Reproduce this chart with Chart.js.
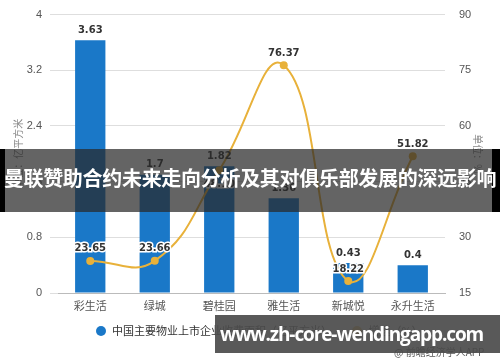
<!DOCTYPE html>
<html>
<head>
<meta charset="utf-8">
<script src="https://cdn.jsdelivr.net/npm/chart.js@4"></script>
<style>
  html, body { margin: 0; padding: 0; background: #fff; }
  body { width: 500px; height: 362px; overflow: hidden; position: relative; font-family: "Noto Sans CJK SC", "Noto Sans", sans-serif; }
  #wrap { position: absolute; left: 0; top: 0; width: 500px; height: 362px; }
  .legend { position: absolute; top: 322px; left: 96px; font-size: 11px; color: #333; white-space: nowrap; }
  .legend span.dot { display: inline-block; width: 10px; height: 10px; border-radius: 50%; vertical-align: -1px; margin-right: 6px; }
  .legend span.item { margin-right: 18px; }
  .banner { position: absolute; left: 0; top: 149px; width: 500px; height: 63px; }
  .banner .txt { position: absolute; left: -2px; top: 17px; width: 504px; text-align: center; color: #fff; font-weight: bold; font-size: 20px; line-height: 24px; white-space: nowrap; letter-spacing: -0.3px; }
  .wm { position: absolute; left: 215px; top: 315px; width: 285px; height: 38px; background: rgba(75,75,75,0.92); color: #fff; font-family: "Open Sans", sans-serif; font-weight: bold; font-size: 19px; letter-spacing: -1.1px; line-height: 38px; text-indent: 5px; white-space: nowrap; }
  .src { position: absolute; left: 394px; top: 344px; font-size: 10px; color: #555; white-space: nowrap; }
</style>
</head>
<body>
<div id="wrap"><canvas id="c" width="500" height="362"></canvas></div>
<div class="legend">
  <span class="item"><span class="dot" style="background:#1a78c8"></span>中国主要物业上市企业收费面积（亿平方米）</span>
  <span class="item"><span class="dot" style="background:#e8b13a"></span>增速（%）</span>
</div>
<div class="src">@ 前瞻经济学人APP</div>
<div class="banner">
  <div style="position:absolute;left:0;top:0;width:5px;height:63px;background:#000"></div>
  <div style="position:absolute;left:5px;top:0;width:487px;height:63px;background:rgba(40,40,40,0.72)"></div>
  <div style="position:absolute;left:492px;top:0;width:8px;height:63px;background:#000"></div>
  <div class="txt">曼联赞助合约未来走向分析及其对俱乐部发展的深远影响</div>
</div>
<div class="wm">www.zh-core-wendingapp.com</div>
<script>
const categories = ['彩生活', '绿城', '碧桂园', '雅生活', '新城悦', '永升生活'];
const areaValues = [3.63, 1.7, 1.82, 1.36, 0.43, 0.4];
const growthValues = [23.65, 23.66, 48.1, 76.37, 18.22, 51.82];
const leftTicks = [0, 0.8, 1.6, 2.4, 3.2, 4];
const rightTicks = [15, 30, 45, 60, 75, 90];

const barColor = '#1a78c8';
const lineColor = '#e8b13a';

// value labels over bars and line points
const labelPlugin = {
  id: 'labels',
  afterDatasetsDraw(chart) {
    const ctx = chart.ctx;
    ctx.save();
    ctx.textAlign = 'center';
    ctx.textBaseline = 'bottom';
    ctx.font = 'bold 10px "DejaVu Sans", sans-serif';
    chart.getDatasetMeta(1).data.forEach((el, i) => {
      ctx.fillStyle = '#333';
      ctx.fillText(String(areaValues[i]), el.x, el.y - 5);
    });
    chart.getDatasetMeta(0).data.forEach((el, i) => {
      // the 碧桂园 label would sit on the bar label, put it under the point
      const y = i === 2 ? el.y + 19 : el.y - 7;
      ctx.lineWidth = 3;
      ctx.strokeStyle = '#fff';
      ctx.strokeText(growthValues[i].toFixed(2), el.x, y);
      ctx.fillStyle = '#333';
      ctx.fillText(growthValues[i].toFixed(2), el.x, y);
    });
    ctx.restore();
  }
};

new Chart(document.getElementById('c'), {
  data: {
    labels: categories,
    datasets: [
      {
        type: 'line',
        label: '增速（%）',
        data: growthValues,
        yAxisID: 'y1',
        borderColor: lineColor,
        backgroundColor: lineColor,
        borderWidth: 2,
        tension: 0.45,
        pointRadius: 4,
        pointBackgroundColor: lineColor,
        pointBorderWidth: 0,
        order: 0
      },
      {
        type: 'bar',
        label: '中国主要物业上市企业收费面积（亿平方米）',
        data: areaValues,
        yAxisID: 'y',
        backgroundColor: barColor,
        categoryPercentage: 1,
        barPercentage: 0.47,
        order: 1
      }
    ]
  },
  options: {
    responsive: false,
    animation: false,
    layout: { padding: { top: 0, right: 16, left: 12, bottom: 0 } },
    plugins: {
      legend: { display: false },
      tooltip: { enabled: false }
    },
    scales: {
      x: {
        grid: { display: false },
        border: { color: '#bbb' },
        ticks: { color: '#555', font: { size: 11, family: '"Noto Sans CJK SC", sans-serif' }, padding: -2 },
        afterFit(s) { s.height = 69; }
      },
      y: {
        position: 'left',
        min: 0, max: 4,
        afterBuildTicks(s) { s.ticks = leftTicks.map(v => ({ value: v })); },
        grid: { color: '#dedede' },
        border: { display: false },
        ticks: { color: '#555', font: { size: 11 }, padding: 8, callback: v => String(v) },
        title: { display: true, text: '单位：亿平方米', color: '#888', font: { size: 10, family: '"Noto Sans CJK SC", sans-serif' }, padding: 0 },
        afterFit(s) { s.width = 46; }
      },
      y1: {
        position: 'right',
        min: 15, max: 90,
        afterBuildTicks(s) { s.ticks = rightTicks.map(v => ({ value: v })); },
        grid: { display: false },
        border: { display: false },
        ticks: { color: '#555', font: { size: 11 }, padding: 6 },
        title: { display: true, text: '单位：%', color: '#888', font: { size: 10, family: '"Noto Sans CJK SC", sans-serif' }, padding: 0 },
        afterFit(s) { s.width = 39; }
      }
    }
  },
  plugins: [labelPlugin]
});
</script>
</body>
</html>
